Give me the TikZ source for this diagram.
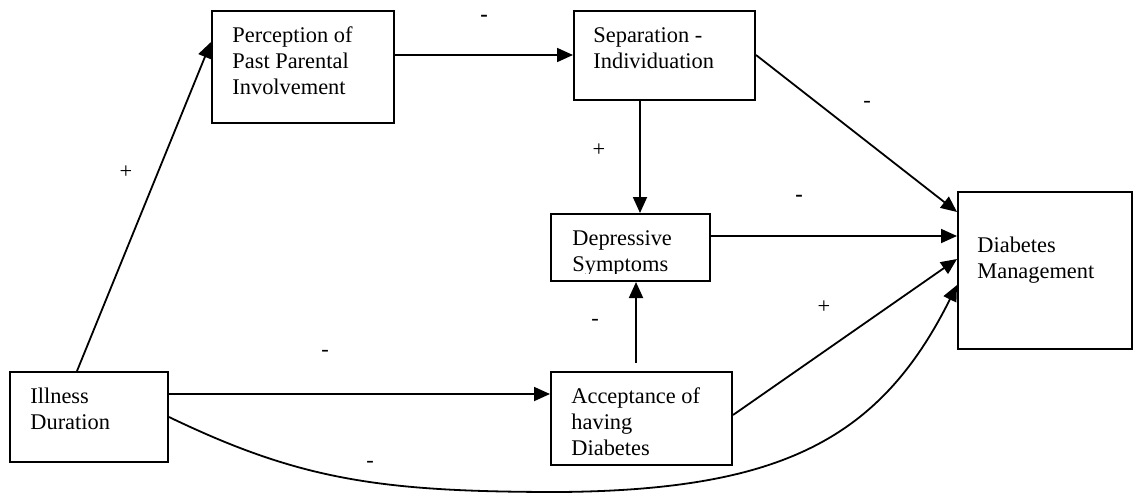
\documentclass[tikz,border=0pt]{standalone}
\usepackage{fontspec}
\setmainfont{Liberation Serif}
\usetikzlibrary{arrows.meta,calc,fit}
\begin{document}
\begin{tikzpicture}[x=0.5pt,y=-0.5pt,
  box/.style={draw, line width=1pt, inner sep=0pt, rectangle},
  txt/.style={anchor=base west, align=left, inner sep=0pt, font=\fontsize{11.2pt}{13.2pt}\selectfont},
  arr/.style={line width=0.9pt, -{Triangle[length=8pt,width=7pt]}},
  sign/.style={inner sep=0pt, font=\fontsize{11.2pt}{13.2pt}\selectfont},
  bsign/.style={sign, font=\fontsize{11.2pt}{13.2pt}\selectfont\bfseries},
]
\useasboundingbox (0,0) rectangle (1133,493);

% boxes
\node[box, fit={(212,11) (394,123)}] (perc) {};
\node[box, fit={(574,11) (755,100)}] (sep) {};
\node[box, fit={(551,214) (710,281)}] (dep) {};
\node[box, fit={(958,192) (1132,349)}] (dm) {};
\node[box, fit={(10,372) (168,462)}] (ill) {};
\node[box, fit={(551,372) (732,465)}] (acc) {};

% texts (anchor = baseline of the last line)
\node[txt] (percT) at (232,94.8) {Perception of\\Past Parental\\Involvement};
\node[txt] (sepT) at (593,68.4) {Separation -\\Individuation};
\begin{scope}
  \clip (551,214) rectangle (710,273);
  \node[txt] (depT) at (572,271.4) {Depressive\\Symptoms};
\end{scope}
\node[txt] (dmT) at (977,278.4) {Diabetes\\Management};
\node[txt] (illT) at (30,429.4) {Illness\\Duration};
\node[txt] (accT) at (571,455.8) {Acceptance of\\having\\Diabetes};

% connectors
\draw[arr] ([shift={(68,0)}]ill.north west) -- ([shift={(0,32)}]perc.north west);
\draw[arr] ([shift={(0,45)}]perc.north east) -- ([shift={(0,45)}]sep.north west);
\draw[arr] ([shift={(67,0)}]sep.south west) -- ([shift={(90,0)}]dep.north west);
\draw[arr] ([shift={(0,45)}]sep.north east) -- ([shift={(0,21)}]dm.north west);
\draw[arr] ([shift={(0,23)}]dep.north east) -- ([shift={(0,45)}]dm.north west);
\draw[arr] ([shift={(86,-8)}]acc.north west) -- ([shift={(86,0)}]dep.south west);
\draw[arr] ([shift={(0,23)}]ill.north east) -- ([shift={(0,23)}]acc.north west);
\draw[arr] ([shift={(0,44)}]acc.north east) -- ([shift={(0,68)}]dm.north west);
\coordinate (low) at (560,492);
\draw[arr] ([shift={(0,46)}]ill.north east) .. controls (300,480) and (380,492) .. (low)
  .. controls (780,490) and (880,440) .. ([shift={(0,94)}]dm.north west);

% signs
\node[sign] (s1) at (126,172) {+};
\node[bsign] (s2) at (484,18) {-};
\node[sign] (s3) at (599,150) {+};
\node[sign] (s4) at (867,104) {-};
\node[bsign] (s5) at (799,198) {-};
\node[sign] (s6) at (595,322) {-};
\node[sign] (s7) at (325,353) {-};
\node[sign] (s8) at (824,307) {+};
\node[sign] (s9) at (370,464) {-};
\end{tikzpicture}
\end{document}
